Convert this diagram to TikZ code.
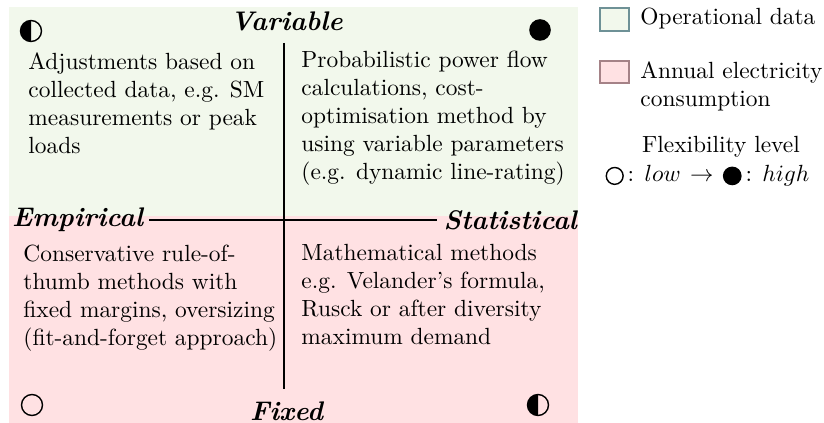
\documentclass[tikz,border=0pt]{standalone}
\definecolor{opgreen}{RGB}{242,248,236}
\definecolor{aepink}{RGB}{255,225,227}
\definecolor{opgreenline}{RGB}{110,145,150}
\definecolor{aepinkline}{RGB}{165,130,135}
\tikzset{
  body/.style={font=\fontsize{10}{12}\selectfont, align=left, inner sep=0pt, anchor=north west},
  legtext/.style={font=\fontsize{10}{12}\selectfont, inner sep=0pt},
  axislabel/.style={font=\fontsize{11.5}{13}\selectfont\bfseries\itshape, inner sep=0pt},
  axisline/.style={line width=1.2pt},
  flexmark/.style={line width=0.6pt},
  legbox/.style={line width=0.5pt},
}
\begin{document}
\begin{tikzpicture}[x=0.4274pt,y=-0.4274pt]
\useasboundingbox (0,0) rectangle (824,423);
% backgrounds
\fill[opgreen] (9,7) rectangle (578,216.5);
\fill[aepink] (9,216.5) rectangle (578,423);
% axis labels
\node[axislabel, anchor=base] (var) at (286.5,31) {Variable};
\node[axislabel, anchor=base] (fix) at (286.5,421) {Fixed};
\node[axislabel, anchor=west, inner xsep=2.4pt] (emp) at (6,220) {Empirical};
\node[axislabel, anchor=east, inner xsep=2.4pt] (stat) at (583,220) {Statistical};
% axes
\coordinate (vtop) at (284,43);
\coordinate (vbot) at (284,389);
\draw[axisline] (vtop) -- (vbot);
\draw[axisline] (emp) -- (stat);
% quadrant texts
\node[body] (tl) at (28,49.3) {\strut Adjustments based on\\collected data, e.g. SM\\measurements or peak\\loads};
\node[body] (tr) at (301,47.3) {\strut Probabilistic power flow\\calculations, cost-\\optimisation method by\\using variable parameters\\(e.g. dynamic line-rating)};
\node[body] (bl) at (23,241.3) {\strut Conservative rule-of-\\thumb methods with\\fixed margins, oversizing\\(fit-and-forget approach)};
\node[body] (br) at (301,240.3) {\strut Mathematical methods\\e.g. Velander's formula,\\Rusck or after diversity\\maximum demand};
% flexibility marks
\coordinate (ftl) at (31,31);
\coordinate (ftr) at (540,30);
\coordinate (fbl) at (32,405);
\coordinate (fbr) at (538,405);
\fill (ftl) ++(0,10.5) arc[start angle=90, end angle=270, radius=10.5] -- cycle;
\draw[flexmark] (ftl) circle[radius=10.5];
\fill (ftr) circle[radius=10.8];
\draw[flexmark] (fbl) circle[radius=10.5];
\fill (fbr) ++(0,10.5) arc[start angle=90, end angle=270, radius=10.5] -- cycle;
\draw[flexmark] (fbr) circle[radius=10.5];
% legend
\draw[legbox, draw=opgreenline, fill=opgreen] (600,8) rectangle (629,31);
\node[legtext, anchor=base west] (leg1) at (640,25) {Operational data};
\draw[legbox, draw=aepinkline, fill=aepink] (600,61) rectangle (629,83);
\node[body] (leg2) at (640,58.3) {\strut Annual electricity\\consumption};
\node[legtext, anchor=base] (leg3) at (721,153) {Flexibility level};
\node[legtext, anchor=base] (leg4) at (707.5,182) {\tikz[baseline=-2.6pt]{\draw[line width=0.6pt] (0,0) circle[radius=3.6pt];}\,: $low$\hspace{4pt}$\rightarrow$\hspace{4pt}\tikz[baseline=-2.6pt]{\fill (0,0) circle[radius=4pt];}\,: $high$};
\end{tikzpicture}
\end{document}
